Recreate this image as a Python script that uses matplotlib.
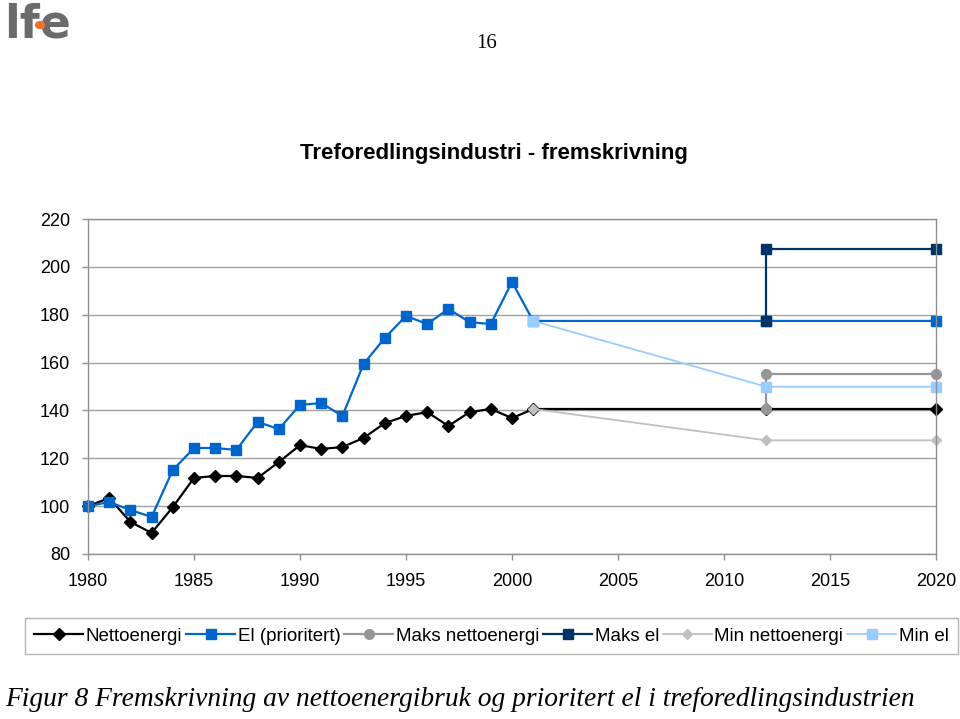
import matplotlib
matplotlib.use("Agg")
import matplotlib.pyplot as plt
from matplotlib.patches import Circle

# Data
hist_years = list(range(1980, 2002))
netto_hist = [100.0, 103.4, 93.4, 88.8, 99.6, 111.8, 112.6, 112.6, 111.8, 118.4,
              125.5, 123.9, 124.7, 128.5, 134.7, 137.7, 139.3, 133.5, 139.3, 140.6,
              136.8, 140.6]
el_hist = [100.0, 101.7, 98.4, 95.5, 115.1, 124.3, 124.3, 123.5, 135.2, 132.2,
           142.3, 143.1, 137.7, 159.4, 170.3, 179.5, 176.1, 182.4, 176.9, 176.1,
           193.7, 177.4]

proj_years = [2012, 2020]
netto_proj = [140.6, 140.6]
el_proj = [177.4, 177.4]

maks_netto_years = [2012, 2012, 2020]
maks_netto = [140.6, 155.1, 155.1]
maks_el_years = [2012, 2012, 2020]
maks_el = [177.4, 207.3, 207.3]
min_years = [2001, 2012, 2020]
min_netto = [140.6, 127.5, 127.5]
min_el = [177.4, 149.9, 149.9]

labels = ["Nettoenergi", "El (prioritert)", "Maks nettoenergi", "Maks el",
          "Min nettoenergi", "Min el"]
colors = ["#000000", "#0066CC", "#969696", "#003366", "#C0C0C0", "#99CCFF"]

plt.rcParams["font.family"] = ["Liberation Sans", "DejaVu Sans"]

fig = plt.figure(figsize=(9.6, 7.19), dpi=100)
ax = fig.add_axes([88 / 960, 1 - 554 / 719, 848 / 960, 335 / 719])

series = [
    (hist_years + proj_years, netto_hist + netto_proj, "D", 6.5, 1.6),
    (hist_years + proj_years, el_hist + el_proj, "s", 7.5, 1.6),
    (maks_netto_years, maks_netto, "o", 7, 1.6),
    (maks_el_years, maks_el, "s", 7.5, 1.6),
    (min_years, min_netto, "D", 5, 1.3),
    (min_years, min_el, "s", 7.5, 1.3),
]
for (xs, ys, mk, ms, lw), lab, col in zip(series, labels, colors):
    ax.plot(xs, ys, marker=mk, markersize=ms, linewidth=lw, color=col,
            markeredgecolor=col, label=lab, clip_on=False)

ax.set_xlim(1980, 2020)
ax.set_ylim(80, 220)
ax.set_xticks(range(1980, 2021, 5))
ax.set_yticks(range(80, 221, 20))
ax.grid(axis="y", color="#a0a0a0", linewidth=1.0)
ax.set_axisbelow(True)
for sp in ax.spines.values():
    sp.set_color("#909090")
    sp.set_linewidth(1.0)
ax.tick_params(axis="both", colors="#909090", labelcolor="black", labelsize=13,
               length=4, width=1.0)
ax.tick_params(axis="y", pad=9)
ax.tick_params(axis="x", pad=10)

fig.text(0.514, 1 - 153 / 719, "Treforedlingsindustri - fremskrivning",
         ha="center", va="center", fontsize=16, fontweight="bold")

fig.legend(loc="center", ncol=6, mode="expand",
           bbox_to_anchor=(25 / 960, 1 - 656 / 719, 933 / 960, 40 / 719),
           borderaxespad=0, fontsize=13.5, handlelength=2.6, handletextpad=0.15,
           columnspacing=0.4, frameon=True, fancybox=False, edgecolor="#a0a0a0",
           borderpad=0.5)

fig.text(487 / 960, 1 - 43 / 719, "16", ha="center", va="center",
         fontsize=15, family="Liberation Serif")
fig.text(5 / 960, 1 - 700 / 719,
         "Figur 8 Fremskrivning av nettoenergibruk og prioritert el i treforedlingsindustrien",
         ha="left", va="center", fontsize=19.8, family="Liberation Serif", style="italic")

# logo
fig.text(4 / 960, 1 - 25 / 719, "lfe", ha="left", va="center", fontsize=33,
         color="#6b6b6b", family="DejaVu Sans", fontweight="bold")
fig.patches.append(Circle((40 / 960, 1 - 25 / 719), 4.5 / 960, transform=fig.transFigure,
                          color="#f07030", zorder=5))

fig.savefig("out.png", dpi=100)
